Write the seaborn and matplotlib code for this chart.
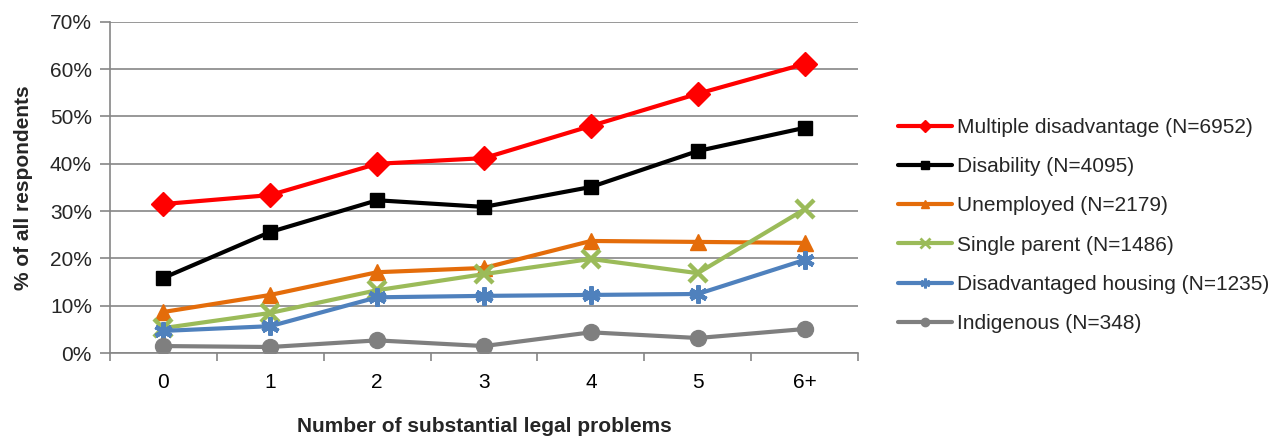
import matplotlib
matplotlib.use("Agg")
import matplotlib.pyplot as plt
import seaborn as sns
import pandas as pd
from matplotlib.lines import Line2D
from matplotlib.ticker import FixedLocator, PercentFormatter

categories = ["0", "1", "2", "3", "4", "5", "6+"]
series_names = [
    "Multiple disadvantage (N=6952)",
    "Disability (N=4095)",
    "Unemployed (N=2179)",
    "Single parent (N=1486)",
    "Disadvantaged housing (N=1235)",
    "Indigenous (N=348)",
]
multiple_disadvantage = [31.5, 33.4, 40.0, 41.2, 48.0, 54.8, 61.1]
disability = [15.9, 25.6, 32.3, 30.9, 35.1, 42.7, 47.6]
unemployed = [8.7, 12.3, 17.1, 18.0, 23.7, 23.5, 23.3]
single_parent = [5.3, 8.5, 13.3, 16.7, 19.9, 16.9, 30.4]
disadvantaged_housing = [4.7, 5.7, 11.8, 12.1, 12.3, 12.5, 19.7]
indigenous = [1.5, 1.3, 2.7, 1.5, 4.4, 3.2, 5.1]

values = [multiple_disadvantage, disability, unemployed,
          single_parent, disadvantaged_housing, indigenous]
colors = ["#FF0000", "#000000", "#E46C0A", "#9BBB59", "#4F81BD", "#7F7F7F"]
markers = ["D", "s", "^", "x", (6, 2, 0), "o"]
msizes = [12, 10, 11, 13, 13, 11.5]
line_art = {"x", (6, 2, 0)}

sns.set_theme(style="white")
plt.rcParams["font.family"] = ["Liberation Sans", "DejaVu Sans"]

fig = plt.figure(figsize=(12.88, 4.36), dpi=100)
ax = fig.add_axes([0.0854, 0.19, 0.5808, 0.76])

legend_handles = []
for name, vals, col, mk, ms in zip(series_names, values, colors, markers, msizes):
    df = pd.DataFrame({"pos": range(len(categories)), "pct": vals})
    mew = 3.2 if mk in line_art else 1
    sns.lineplot(data=df, x="pos", y="pct", ax=ax, color=col, linewidth=3.0,
                 marker=mk, markersize=ms, markeredgecolor=col,
                 markeredgewidth=mew, legend=False)
    legend_handles.append(Line2D([], [], color=col, linewidth=3.0, marker=mk,
                                 markersize=6 if mk not in line_art else 7,
                                 markeredgecolor=col,
                                 markeredgewidth=2 if mk in line_art else 1))

ax.set_xlim(-0.5, len(categories) - 0.5)
ax.set_ylim(0, 70)
ax.set_yticks(range(0, 71, 10))
ax.yaxis.set_major_formatter(PercentFormatter(decimals=0))
ax.set_xticks(range(len(categories)))
ax.set_xticklabels(categories)
ax.xaxis.set_minor_locator(FixedLocator([i - 0.5 for i in range(len(categories) + 1)]))

ax.grid(axis="y", color="#868686", linewidth=1.2)
ax.set_axisbelow(True)
for side in ("top", "right"):
    ax.spines[side].set_visible(False)
for side in ("left", "bottom"):
    ax.spines[side].set_color("#868686")
    ax.spines[side].set_linewidth(1.2)

ax.tick_params(axis="x", which="major", length=0, pad=14, labelsize=15, colors="black")
ax.tick_params(axis="x", which="minor", length=6, width=1.2, color="#868686", direction="out")
ax.tick_params(axis="y", which="major", length=7, width=1.2, color="#868686",
               direction="out", labelsize=15, pad=6)
ax.tick_params(axis="both", left=True, bottom=False)
ax.xaxis.set_tick_params(which="minor", bottom=True)

ax.set_xlabel("Number of substantial legal problems", fontsize=15, fontweight="bold", labelpad=18)
ax.set_ylabel("% of all respondents", fontsize=15, fontweight="bold", labelpad=12)

ax.legend(legend_handles, series_names, loc="center left", bbox_to_anchor=(1.053, 0.385),
          frameon=False, fontsize=15, handlelength=2.6, handletextpad=0.25,
          labelspacing=0.97, borderaxespad=0, borderpad=0)

fig.savefig("out.png", dpi=100)
